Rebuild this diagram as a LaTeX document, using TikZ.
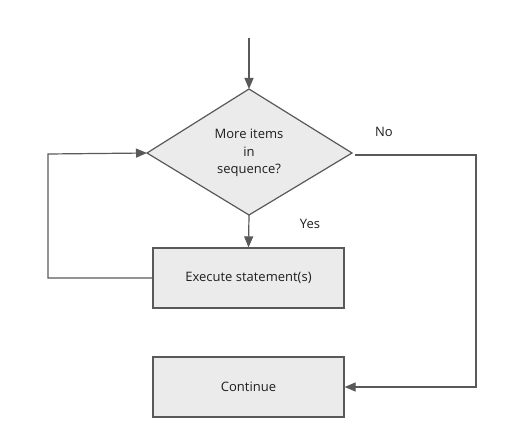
\documentclass[tikz,border=0pt]{standalone}
\usepackage{fontspec}
\setmainfont{Open Sans}
\usetikzlibrary{arrows.meta,shapes.geometric}
\definecolor{lineg}{HTML}{595959}
\definecolor{fillg}{HTML}{EBEBEB}
\definecolor{txt}{HTML}{1E1E1E}
\begin{document}
\begin{tikzpicture}[x=1pt,y=-1pt,
  boxst/.style={draw=lineg,fill=fillg,line width=1.2pt,minimum width=191pt,minimum height=60pt,inner sep=0pt,font=\fontsize{13}{16}\selectfont,text=txt},
  conn/.style={draw=lineg,line width=1.2pt,-{Triangle[length=11pt,width=9pt]}},
  lbl/.style={font=\fontsize{13}{16}\selectfont,text=txt}]
\useasboundingbox (0,0) rectangle (516,438);
\coordinate (start) at (249,38);
\coordinate (dtop) at (249,89);
\coordinate (dbot) at (249,215);
\coordinate (dleft) at (147,153);
\coordinate (dright) at (352,153);
\filldraw[draw=lineg,fill=fillg,line width=1.2pt,line join=miter] (dtop) -- (dright) -- (dbot) -- (dleft) -- cycle;
\node[lbl,align=center,font=\fontsize{13}{17.5}\selectfont] (dtext) at (249,153) {More items\\in\\sequence?};
\node[boxst] (exec) at (248.5,278) {Execute statement(s)};
\node[boxst] (cont) at (248.5,387) {Continue};
\node[lbl] (no) at (384,132) {No};
\node[lbl] (yes) at (310,224) {Yes};
\coordinate (nstart) at (355,155);
\coordinate (ncorner) at (476,155);
\coordinate (ncorner2) at (476,387);
\coordinate (lcorner1) at (48,278);
\coordinate (lcorner2) at (48,154);
\draw[conn] (start) -- (dtop);
\draw[conn] (dbot) -- (exec.north);
\draw[conn] (exec.west) -- (lcorner1) -- (lcorner2) -- (dleft);
\draw[conn] (nstart) -- (ncorner) -- (ncorner2) -- (cont.east);
\end{tikzpicture}
\end{document}
